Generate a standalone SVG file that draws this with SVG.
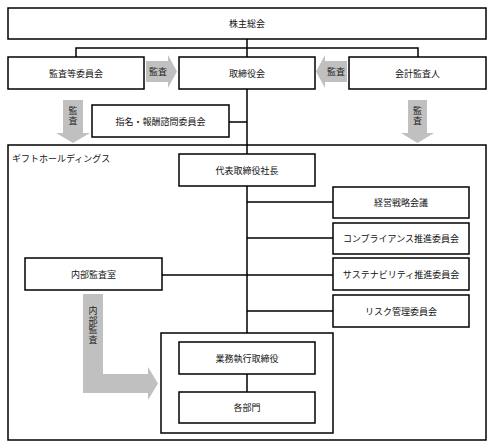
<svg xmlns="http://www.w3.org/2000/svg" width="493" height="448" viewBox="0 0 493 448">
<style>
.box{fill:#fff;stroke:#000;stroke-width:1.5}
.t{font-family:"Noto Sans CJK JP","Noto Sans",sans-serif;font-size:9px;fill:#111;text-anchor:middle;dominant-baseline:central}
.at{font-family:"Noto Sans CJK JP","Noto Sans",sans-serif;font-size:9px;fill:#222;text-anchor:middle;dominant-baseline:central}
.vt{font-family:"Noto Sans CJK JP","Noto Sans",sans-serif;font-size:9px;fill:#222;text-anchor:middle;writing-mode:vertical-rl;text-orientation:upright;letter-spacing:0.5px}
.ln{fill:none;stroke:#000;stroke-width:1.5}
.arr{fill:#c0c0c0;stroke:none}
</style>
<rect width="493" height="448" fill="#fff"/>
<g id="group-holdings">
<rect class="box" x="8" y="145" width="478" height="295"/>
<text x="12" y="158" style="font-family:'Noto Sans CJK JP','Noto Sans',sans-serif;font-size:9px;fill:#111;dominant-baseline:central">ギフトホールディングス</text>
</g>
<g id="group-exec">
<rect class="box" x="161" y="333" width="172" height="100"/>
</g>
<g id="connectors">
<path class="ln" d="M247 39V154M76 57V48H418V57M229 122H247"/>
<path class="ln" d="M247 186V333M247 202H333M247 238H333M162 275H333M247 311H333M247 374V392"/>
</g>
<g id="arrows">
<path class="arr" d="M146 61H168V55L177 71.5L168 88V82H146Z"/>
<text class="at" x="158" y="71.5">監査</text>
<path class="arr" d="M347 61H325V55L316 71.5L325 88V82H347Z"/>
<text class="at" x="336" y="71.5">監査</text>
<path class="arr" d="M63 100H83V133H90L73 143L56 133H63Z"/>
<text class="vt" x="73" y="116">監査</text>
<path class="arr" d="M408 100H427V133H434L417.5 143L401 133H408Z"/>
<text class="vt" x="417.5" y="116">監査</text>
<path class="arr" d="M83 294H103V374H148V367L158 383.5L148 400V393H83Z"/>
<text class="vt" x="93" y="325.5">内部監査</text>
</g>
<g id="n-agm"><rect class="box" x="8" y="8" width="478" height="31"/><text class="t" x="247" y="23.5">株主総会</text></g>
<g id="n-audit-committee"><rect class="box" x="8" y="57" width="136" height="32"/><text class="t" x="76" y="73">監査等委員会</text></g>
<g id="n-board"><rect class="box" x="179" y="57" width="136" height="32"/><text class="t" x="247" y="73">取締役会</text></g>
<g id="n-auditor"><rect class="box" x="349" y="57" width="137" height="32"/><text class="t" x="417.5" y="73">会計監査人</text></g>
<g id="n-nomination"><rect class="box" x="92" y="105" width="137" height="32"/><text class="t" x="160.5" y="121">指名・報酬諮問委員会</text></g>
<g id="n-president"><rect class="box" x="179" y="154" width="136" height="32"/><text class="t" x="247" y="170">代表取締役社長</text></g>
<g id="n-strategy"><rect class="box" x="333" y="187" width="136" height="31"/><text class="t" x="401" y="202.5">経営戦略会議</text></g>
<g id="n-compliance"><rect class="box" x="333" y="223" width="136" height="31"/><text class="t" x="401" y="238.5">コンプライアンス推進委員会</text></g>
<g id="n-sustain"><rect class="box" x="333" y="258" width="136" height="32"/><text class="t" x="401" y="274">サステナビリティ推進委員会</text></g>
<g id="n-risk"><rect class="box" x="333" y="295" width="136" height="32"/><text class="t" x="401" y="311">リスク管理委員会</text></g>
<g id="n-internal-audit"><rect class="box" x="25" y="258" width="137" height="32"/><text class="t" x="93.5" y="274">内部監査室</text></g>
<g id="n-exec-directors"><rect class="box" x="179" y="342" width="136" height="32"/><text class="t" x="247" y="358">業務執行取締役</text></g>
<g id="n-departments"><rect class="box" x="179" y="392" width="136" height="31"/><text class="t" x="247" y="407.5">各部門</text></g>
</svg>
